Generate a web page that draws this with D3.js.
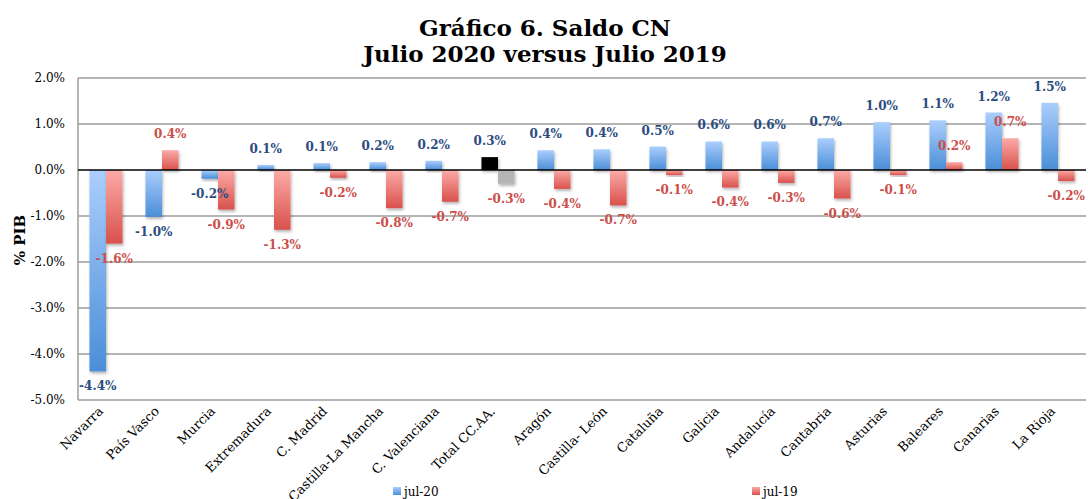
<!DOCTYPE html>
<html>
<head>
<meta charset="utf-8">
<script src="https://cdn.jsdelivr.net/npm/d3@7"></script>
<style>
  body { margin: 0; background: #fff; }
  svg { display: block; font-family: "DejaVu Serif", Georgia, serif; }
</style>
</head>
<body>
<svg width="1088" height="499"></svg>
<script>
// data
const categories = ["Navarra", "País Vasco", "Murcia", "Extremadura", "C. Madrid",
  "Castilla-La Mancha", "C. Valenciana", "Total CC.AA.", "Aragón", "Castilla- León",
  "Cataluña", "Galicia", "Andalucía", "Cantabria", "Asturias", "Baleares", "Canarias", "La Rioja"];
const jul20 = [-4.38, -1.02, -0.19, 0.11, 0.15, 0.17, 0.20, 0.28, 0.43, 0.45,
  0.51, 0.62, 0.62, 0.69, 1.04, 1.08, 1.25, 1.46];
const jul19 = [-1.60, 0.43, -0.86, -1.30, -0.17, -0.83, -0.69, -0.30, -0.41, -0.77,
  -0.11, -0.38, -0.28, -0.62, -0.11, 0.17, 0.69, -0.24];
const jul20Labels = ["-4.4%", "-1.0%", "-0.2%", "0.1%", "0.1%", "0.2%", "0.2%", "0.3%", "0.4%", "0.4%",
  "0.5%", "0.6%", "0.6%", "0.7%", "1.0%", "1.1%", "1.2%", "1.5%"];
const jul19Labels = ["-1.6%", "0.4%", "-0.9%", "-1.3%", "-0.2%", "-0.8%", "-0.7%", "-0.3%", "-0.4%", "-0.7%",
  "-0.1%", "-0.4%", "-0.3%", "-0.6%", "-0.1%", "0.2%", "0.7%", "-0.2%"];
const yTicks = [2, 1, 0, -1, -2, -3, -4, -5];
const seriesNames = ["jul-20", "jul-19"];
const totalName = "Total CC.AA.";

const svg = d3.select("svg");

const y = d3.scaleLinear().domain([-5, 2]).range([400, 78]);
const x0 = d3.scaleBand().domain(categories).range([78, 1086])
  .paddingInner(0.41).paddingOuter(0.205);
const x1 = d3.scaleBand().domain(seriesNames).range([0, x0.bandwidth()]);

// gradients + shadow
const defs = svg.append("defs");
function grad(id, top, bottom) {
  const g = defs.append("linearGradient").attr("id", id)
    .attr("x1", 0).attr("y1", 0).attr("x2", 0).attr("y2", 1);
  g.append("stop").attr("offset", "0%").attr("stop-color", top);
  g.append("stop").attr("offset", "100%").attr("stop-color", bottom);
}
grad("gBlue", "#abcefd", "#4a8ed8");
grad("gRed", "#fcaba7", "#d9514c");
defs.append("filter").attr("id", "shadow")
  .attr("x", "-30%").attr("y", "-30%").attr("width", "160%").attr("height", "160%")
  .append("feDropShadow")
  .attr("dx", 1).attr("dy", 2).attr("stdDeviation", 1.5)
  .attr("flood-color", "#000").attr("flood-opacity", 0.3);

// title
const title = svg.append("text")
  .attr("x", 545).attr("text-anchor", "middle")
  .attr("font-weight", "bold").attr("font-size", 23).attr("fill", "#000");
title.append("tspan").attr("x", 545).attr("y", 36).text("Gráfico 6. Saldo CN");
title.append("tspan").attr("x", 545).attr("y", 62).text("Julio 2020 versus Julio 2019");

// grid
svg.append("g")
  .selectAll("line")
  .data(yTicks.filter(d => d !== 0))
  .join("line")
  .attr("x1", 78).attr("x2", 1086)
  .attr("y1", d => y(d)).attr("y2", d => y(d))
  .attr("stroke", "#9c9c9c").attr("stroke-width", 1.5);

svg.append("line")
  .attr("x1", 78).attr("x2", 78)
  .attr("y1", y(2)).attr("y2", y(-5))
  .attr("stroke", "#9c9c9c").attr("stroke-width", 1.5);

// y axis labels
const yAxis = svg.append("g")
  .attr("transform", "translate(65,0)")
  .call(d3.axisLeft(y).tickValues(yTicks).tickSize(0).tickPadding(0)
    .tickFormat(d => d.toFixed(1) + "%"));
yAxis.select(".domain").remove();
yAxis.selectAll("text")
  .attr("font-family", "DejaVu Serif, serif")
  .attr("font-size", 12).attr("fill", "#000");

svg.append("text")
  .attr("transform", "translate(25,240) rotate(-90)")
  .attr("text-anchor", "middle")
  .attr("font-weight", "bold").attr("font-size", 15)
  .text("% PIB");

// bars
const rows = categories.map((c, i) => ({
  cat: c,
  vals: [
    { s: "jul-20", v: jul20[i], label: jul20Labels[i] },
    { s: "jul-19", v: jul19[i], label: jul19Labels[i] }
  ]
}));

const groups = svg.append("g").selectAll("g")
  .data(rows)
  .join("g")
  .attr("transform", d => `translate(${x0(d.cat)},0)`);

groups.selectAll("rect")
  .data(d => d.vals.map(v => ({ ...v, cat: d.cat })))
  .join("rect")
  .attr("x", d => x1(d.s))
  .attr("width", x1.bandwidth())
  .attr("y", d => y(Math.max(0, d.v)))
  .attr("height", d => Math.abs(y(d.v) - y(0)))
  .attr("fill", d => {
    if (d.cat === totalName) return d.s === "jul-20" ? "#000" : "#b5b5b5";
    return d.s === "jul-20" ? "url(#gBlue)" : "url(#gRed)";
  })
  .attr("filter", "url(#shadow)");

// zero line
svg.append("line")
  .attr("x1", 78).attr("x2", 1086)
  .attr("y1", y(0)).attr("y2", y(0))
  .attr("stroke", "#000").attr("stroke-width", 1.5);

// value labels
groups.selectAll("text.val")
  .data(d => d.vals)
  .join("text")
  .attr("class", "val")
  .attr("x", d => x1(d.s) + x1.bandwidth() / 2)
  .attr("y", d => d.v >= 0 ? y(d.v) - 12 : y(d.v) + 19)
  .attr("text-anchor", "middle")
  .attr("font-weight", "bold").attr("font-size", 12)
  .attr("fill", d => d.s === "jul-20" ? "#2b4d80" : "#cb4f4b")
  .text(d => d.label);

// category labels
svg.append("g").selectAll("text")
  .data(categories)
  .join("text")
  .attr("transform", d => `translate(${x0(d) + x0.bandwidth() / 2 - 2},412) rotate(-45)`)
  .attr("text-anchor", "end")
  .attr("font-size", 13).attr("fill", "#000")
  .text(d => d);

// legend
const legendX = [393, 752];
const legend = svg.append("g").selectAll("g")
  .data(seriesNames)
  .join("g")
  .attr("transform", (d, i) => `translate(${legendX[i]},487)`);
legend.append("rect")
  .attr("width", 8).attr("height", 8)
  .attr("fill", (d, i) => i === 0 ? "url(#gBlue)" : "url(#gRed)");
legend.append("text")
  .attr("x", 11).attr("y", 9)
  .attr("font-size", 12).attr("fill", "#000")
  .text(d => d);
</script>
</body>
</html>
